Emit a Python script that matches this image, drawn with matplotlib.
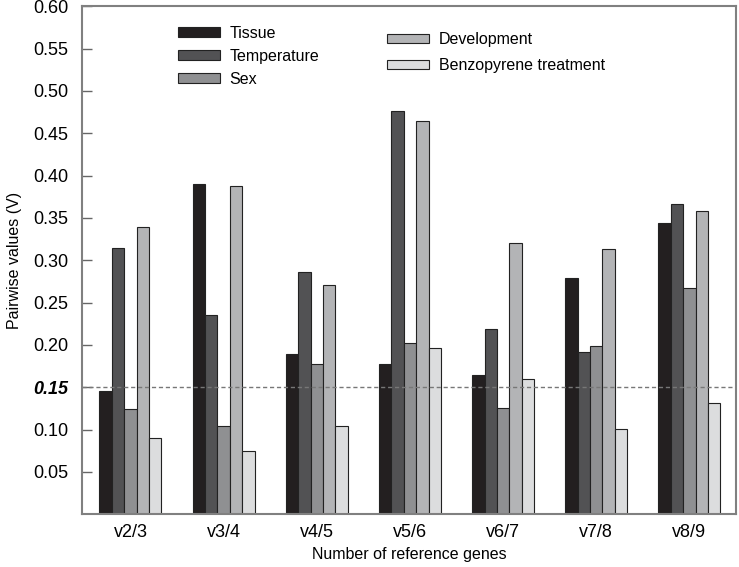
import numpy as np
import matplotlib.pyplot as plt
from matplotlib.patches import Patch

plt.rcParams['font.family'] = ['Liberation Sans', 'DejaVu Sans']

# Data
groups = ['v2/3', 'v3/4', 'v4/5', 'v5/6', 'v6/7', 'v7/8', 'v8/9']
tissue = [0.146, 0.390, 0.189, 0.177, 0.164, 0.279, 0.344]
temperature = [0.314, 0.235, 0.286, 0.476, 0.219, 0.192, 0.366]
sex = [0.124, 0.104, 0.177, 0.202, 0.125, 0.199, 0.267]
development = [0.339, 0.388, 0.271, 0.464, 0.320, 0.313, 0.358]
benzopyrene = [0.090, 0.075, 0.104, 0.196, 0.160, 0.101, 0.132]
cutoff = 0.15

series = [
    ('Tissue', tissue, '#231f20'),
    ('Temperature', temperature, '#525254'),
    ('Sex', sex, '#8f9092'),
    ('Development', development, '#b3b4b6'),
    ('Benzopyrene treatment', benzopyrene, '#dcddde'),
]

fig = plt.figure(figsize=(7.39, 5.67), dpi=100)
ax = fig.add_axes([0.111, 0.093, 0.885, 0.896])

x = np.arange(len(groups))
width = 0.133
for i, (name, vals, color) in enumerate(series):
    ax.bar(x + (i - 2) * width, vals, width, color=color,
           edgecolor='#222222', linewidth=0.8)

ax.axhline(cutoff, color='#777777', linestyle=(0, (3, 2)), linewidth=1.0)

ax.set_xlim(-0.52, 6.5)
ax.set_ylim(0, 0.6)
ax.set_xticks(x)
ax.set_xticklabels(groups, fontsize=13)
yt = np.arange(0.05, 0.601, 0.05)
ax.set_yticks(yt)
ax.set_yticklabels([f'{v:.2f}' for v in yt], fontsize=13)
for lab in ax.get_yticklabels():
    if lab.get_text() == '0.15':
        lab.set_fontweight('bold')
        lab.set_fontstyle('italic')
ax.tick_params(axis='x', length=0, pad=7)
ax.tick_params(axis='y', direction='in', length=7, width=1, color='#666666', pad=10)

for sp in ax.spines.values():
    sp.set_color('#808080')
    sp.set_linewidth(1.5)

ax.set_xlabel('Number of reference genes', fontsize=11.5, labelpad=4)
ax.set_ylabel('Pairwise values (V)', fontsize=11.5, labelpad=8)

handles = [Patch(facecolor=c, edgecolor='#222222', linewidth=0.8, label=n)
           for n, _, c in series]
leg1 = ax.legend(handles=handles[:3], loc='upper left', bbox_to_anchor=(0.125, 0.99),
                 frameon=False, fontsize=11.5, handlelength=2.6, handleheight=0.5,
                 labelspacing=0.5, handletextpad=0.6)
ax.add_artist(leg1)
ax.legend(handles=handles[3:], loc='upper left', bbox_to_anchor=(0.445, 0.978),
          frameon=False, fontsize=11.5, handlelength=2.6, handleheight=0.5,
          labelspacing=0.7, handletextpad=0.6)

fig.savefig('out.png', dpi=100)
